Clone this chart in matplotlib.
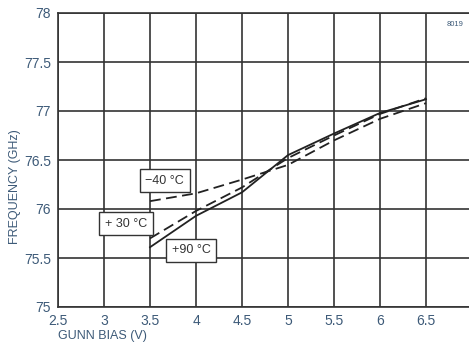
import matplotlib
matplotlib.use("Agg")
import matplotlib.pyplot as plt

plt.rcParams["font.family"] = ["Liberation Sans", "DejaVu Sans"]

# ------------------------------------------------------------
# Data
# ------------------------------------------------------------
bias = [3.5, 4.0, 4.5, 5.0, 5.5, 6.0, 6.5]
freq_m40 = [76.08, 76.16, 76.30, 76.45, 76.70, 76.92, 77.08]
freq_p30 = [75.70, 75.98, 76.22, 76.52, 76.75, 76.97, 77.13]
freq_p90 = [75.61, 75.93, 76.17, 76.55, 76.77, 76.98, 77.12]

x_ticks = [2.5, 3, 3.5, 4, 4.5, 5, 5.5, 6, 6.5, 7]
y_ticks = [75, 75.5, 76, 76.5, 77, 77.5, 78]

labels = ["\u221240 \u00b0C", "+ 30 \u00b0C", "+90 \u00b0C"]
label_pos = [(3.66, 76.29), (3.24, 75.85), (3.95, 75.58)]

tick_color = "#3d5a78"
line_color = "#222222"

# ------------------------------------------------------------
# Figure
# ------------------------------------------------------------
fig = plt.figure(figsize=(4.69, 3.47), dpi=100)
ax = fig.add_axes([58 / 469, 40 / 347, 414 / 469, 294 / 347])

ax.plot(bias, freq_m40, color=line_color, lw=1.3, ls=(0, (6, 3)))
ax.plot(bias, freq_p30, color=line_color, lw=1.3, ls=(0, (6, 3)))
ax.plot(bias, freq_p90, color=line_color, lw=1.3)

ax.set_xlim(2.5, 7)
ax.set_ylim(75, 78)
ax.set_xticks(x_ticks)
ax.set_xticklabels([f"{v:g}" for v in x_ticks])
ax.set_yticks(y_ticks)
ax.set_yticklabels([f"{v:g}" for v in y_ticks])
ax.tick_params(length=0, labelsize=10, labelcolor=tick_color, pad=5)

ax.grid(True, color="#333333", lw=1.2)
ax.set_axisbelow(True)
for s in ax.spines.values():
    s.set_color("#333333")
    s.set_linewidth(1.2)

for txt, (lx, ly) in zip(labels, label_pos):
    ax.text(lx, ly, txt, ha="center", va="center", fontsize=9, color="#333333",
            bbox=dict(boxstyle="square,pad=0.45", fc="white", ec="#333333", lw=1.0))

ax.set_xlabel("GUNN BIAS (V)", fontsize=9, color=tick_color, ha="left", va="center")
ax.xaxis.set_label_coords(0.0, -0.10)
ax.set_ylabel("FREQUENCY (GHz)", fontsize=9, color=tick_color, va="center")
ax.yaxis.set_label_coords(-0.105, 0.41)

fig.text(455 / 469, 1 - 25 / 347, "8019", fontsize=5.5, color=tick_color,
         ha="center", va="center")

fig.savefig("out.png", dpi=100)
